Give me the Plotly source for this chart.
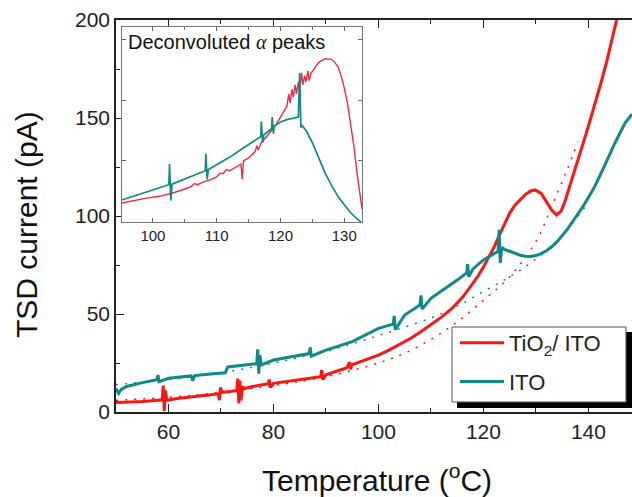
import plotly.graph_objects as go

# ---------------- main panel data ----------------
red_T = [50, 52, 55, 58, 58.8, 59, 59.2, 59.4, 59.7, 62, 65, 68, 69.5, 69.7, 69.9, 70.2, 72, 73, 73.2, 73.4, 73.6, 73.8, 74.1, 74.5,
         76, 78, 79, 79.2, 79.4, 80, 83, 86, 88, 89, 89.2, 89.4, 90, 92, 94, 94.5, 94.7, 94.9, 96, 98, 100, 102, 104, 106, 108,
         110, 112, 114, 115, 116, 117, 118, 119, 120, 121, 122, 123, 124, 125, 126, 127, 128, 129, 129.8, 131, 132, 133, 133.9,
         134.8, 135.6, 136.5, 137.5, 138.5, 139.5, 140.5, 141.5, 142.5, 143.5, 144.5, 145.5]
red_I = [4.9, 5.0, 5.4, 6.0, 6.2, 13.5, 0.5, 11.0, 6.0, 7.0, 7.8, 8.8, 9.4, 6.0, 12.5, 10.0, 10.6, 11.0, 17.0, 4.5, 16.0, 6.0, 13.0, 12.0,
         13.0, 13.8, 14.4, 16.5, 12.5, 14.6, 15.8, 17.0, 17.8, 18.0, 21.5, 16.5, 19.0, 20.6, 22.6, 25.5, 21.8, 24.0, 25.0, 27.0,
         29.0, 31.6, 34.4, 37.4, 40.8, 44.4, 48.4, 52.8, 55.6, 58.5, 62.0, 65.5, 69.5, 74.0, 79.0, 84.0, 90.0, 96.0, 101.5,
         105.5, 108.5, 111.0, 112.8, 113.3, 111.5, 107.5, 103.0, 100.5,
         102.5, 108.0, 115.5, 124.0, 132.5, 141.5, 150.5, 159.5, 169.0, 179.0, 190.0, 201.5]

ito_T = [50, 50.5, 51, 52, 55, 57.8, 58, 58.2, 60, 64.3, 64.6, 65, 68, 70, 70.8, 71.3, 74, 76.8, 77, 77.2, 77.4, 77.7, 80, 83, 86.8,
         87, 87.2, 90, 95, 100, 102.8, 103, 103.2, 105, 107.9, 108.1, 108.3, 110, 113, 115, 116.8, 117, 117.2, 118, 120, 122,
         122.8, 123, 123.2, 123.5, 124, 125, 126, 127, 128, 129, 130, 131, 132, 133, 134, 135, 136, 137, 138, 139, 140, 141,
         142, 143, 144, 145, 146, 147, 148.3]
ito_I = [12.0, 9.5, 11.5, 13.0, 15.0, 16.5, 18.8, 15.5, 17.2, 18.4, 16.0, 18.6, 19.4, 19.7, 20.0, 23.0, 23.8, 24.6, 32.0, 19.5, 29.0, 24.0,
         26.5, 27.8, 29.8, 33.0, 28.5, 31.6, 35.9, 42.7, 44.8, 49.0, 42.0, 49.5, 54.6, 59.5, 52.5, 58.0, 63.5, 67.3, 71.0, 75.5,
         69.0, 73.0, 77.6, 81.0, 82.0, 93.0, 76.0, 84.0, 83.0, 82.0, 81.0, 80.0, 79.5, 79.3, 79.8, 80.8, 82.3, 84.3, 86.8, 89.8,
         93.3, 97.2, 101.0, 105.0, 109.5, 114.0, 119.5, 125.0, 131.0, 137.0, 142.5, 147.5, 152.0]

# exponential-type fits (dotted)
red_fit_T = [50, 60, 70, 80, 90, 100, 105, 110, 115, 120, 125, 130, 133, 136, 138]
red_fit_I = [6.0, 7.5, 10.0, 13.5, 18.0, 25.0, 30.0, 37.0, 46.0, 57.0, 69.0, 87.0, 105.0, 124.0, 138.0]
ito_fit_T = [50, 60, 70, 80, 90, 100, 110, 115, 120, 125, 130, 135, 140]
ito_fit_I = [14.0, 16.5, 20.0, 25.0, 31.0, 39.0, 48.0, 54.0, 61.5, 69.0, 78.0, 90.0, 107.0]

# ---------------- inset data (deconvoluted alpha peaks, arb. units) ----------------
in_ito_T = [95.1, 97, 99, 101, 102.5, 102.6, 102.8, 103, 105, 107, 108.2, 108.3, 108.5, 108.7, 110, 112, 114, 116, 116.9, 117,
            117.2, 117.4, 118.6, 118.7, 118.9, 119, 120, 121, 122, 122.8, 123, 123.2, 123.4, 124, 125, 126, 127, 128, 129,
            130, 131, 132, 132.6]
in_ito_y = [0.36, 0.42, 0.49, 0.56, 0.61, 0.95, 0.35, 0.62, 0.70, 0.79, 0.84, 1.12, 0.70, 0.86, 0.94, 1.06, 1.20, 1.33, 1.40,
            1.65, 1.30, 1.43, 1.53, 1.72, 1.45, 1.57, 1.64, 1.68, 1.70, 1.72, 2.45, 1.55, 1.58, 1.50, 1.30, 1.05, 0.80, 0.60,
            0.42, 0.28, 0.15, 0.05, 0.0]
in_red_T = [95.1, 97, 99, 101, 103, 105, 106, 106.5, 107, 108, 109, 110, 110.5, 111, 111.5, 112, 113, 113.8, 114, 114.2, 115,
            116, 116.3, 116.5, 117, 118, 119, 120, 120.5, 121, 121.3, 121.5, 121.8, 122, 122.3, 122.5, 122.8, 123, 123.3,
            123.5, 123.8, 124, 124.3, 124.5, 124.8, 125, 125.5, 126, 127, 128, 128.5, 129, 129.5, 130, 130.5, 131,
            131.5, 132, 132.5, 132.8]
in_red_y = [0.31, 0.35, 0.39, 0.42, 0.47, 0.54, 0.58, 0.63, 0.61, 0.66, 0.69, 0.74, 0.80, 0.79, 0.86, 0.84, 0.90, 0.95, 0.70,
            1.00, 1.05, 1.15, 1.25, 1.18, 1.30, 1.42, 1.55, 1.72, 1.80, 1.90, 2.10, 1.95, 2.18, 2.05, 2.25, 2.10, 2.30, 2.15,
            2.45, 2.25, 2.40, 2.30, 2.48, 2.32, 2.45, 2.47, 2.55, 2.62, 2.68, 2.67, 2.62, 2.55, 2.40, 2.20, 1.95, 1.62,
            1.25, 0.80, 0.40, 0.20]

RED = "#FF1414"
TEAL = "#0E8A8A"
IN_RED = "#EE2A44"
FONT = "Arial, Liberation Sans, sans-serif"


def px_x(p):
    return (p - 116) / 516.0


def px_y(p):
    return (412 - p) / 392.0


fig = go.Figure()
fig.add_trace(go.Scatter(x=red_fit_T, y=red_fit_I, mode="lines", line=dict(color=RED, width=1.5, dash="2px,7px"),
                         line_shape="spline", showlegend=False, hoverinfo="skip"))
fig.add_trace(go.Scatter(x=ito_fit_T, y=ito_fit_I, mode="lines", line=dict(color=TEAL, width=1.5, dash="2px,7px"),
                         line_shape="spline", showlegend=False, hoverinfo="skip"))
fig.add_trace(go.Scatter(x=red_T, y=red_I, mode="lines", line=dict(color=RED, width=3),
                         name="TiO<sub>2</sub>/ ITO", legendgroup="a"))
fig.add_trace(go.Scatter(x=ito_T, y=ito_I, mode="lines", line=dict(color=TEAL, width=3), name="ITO",
                         legendgroup="b"))

fig.add_trace(go.Scatter(x=in_red_T, y=in_red_y, mode="lines", line=dict(color=IN_RED, width=1.4),
                         xaxis="x2", yaxis="y2", showlegend=False))
fig.add_trace(go.Scatter(x=in_ito_T, y=in_ito_y, mode="lines", line=dict(color=TEAL, width=1.7),
                         xaxis="x2", yaxis="y2", showlegend=False))

fig.update_layout(
    width=632, height=497,
    margin=dict(l=116, r=0, t=20, b=85),
    paper_bgcolor="white", plot_bgcolor="white",
    font=dict(family=FONT, color="#222"),
    xaxis=dict(range=[50, 148.3], tickvals=[60, 80, 100, 120, 140], ticks="inside", ticklen=8, tickwidth=1.2,
               tickcolor="#222", showline=True, linecolor="#222", linewidth=1.5, mirror="ticks",
               showgrid=False, zeroline=False, tickfont=dict(size=21),
               minor=dict(tickvals=[70, 90, 110, 130], ticks="inside", ticklen=4, tickcolor="#222", showgrid=False)),
    yaxis=dict(range=[0, 200], tickvals=[0, 50, 100, 150, 200], ticks="inside", ticklen=8, tickwidth=1.2,
               tickcolor="#222", showline=True, linecolor="#222", linewidth=1.5,
               showgrid=False, zeroline=False, tickfont=dict(size=21),
               minor=dict(tickvals=[25, 75, 125, 175], ticks="inside", ticklen=4, tickcolor="#222", showgrid=False)),
    xaxis2=dict(domain=[0.011, 0.477], anchor="y2", range=[95.1, 132.8], tickvals=[100, 110, 120, 130],
                ticks="inside", ticklen=4, tickcolor="#666", showline=True, linecolor="#777", linewidth=1.2,
                mirror="ticks", showgrid=False, zeroline=False, tickfont=dict(size=15),
                minor=dict(tickvals=[105, 115, 125], ticks="inside", ticklen=3, tickcolor="#666", showgrid=False)),
    yaxis2=dict(domain=[0.485, 0.982], anchor="x2", range=[0, 3.2], tickvals=[1, 2, 3], showticklabels=False,
                ticks="inside", ticklen=4, tickcolor="#666", showline=True, linecolor="#777", linewidth=1.2,
                mirror="ticks", showgrid=False, zeroline=False),
    legend=dict(x=px_x(455), y=px_y(322), xanchor="left", yanchor="top", bgcolor="rgba(0,0,0,0)",
                borderwidth=0, font=dict(size=22, color="#222"), tracegroupgap=7, itemwidth=44),
    shapes=[
        dict(type="rect", xref="paper", yref="paper", x0=px_x(457), x1=1.02, y0=px_y(408), y1=px_y(332),
             fillcolor="black", line=dict(width=0), layer="above"),
        dict(type="rect", xref="paper", yref="paper", x0=px_x(452), x1=px_x(626), y0=px_y(402), y1=px_y(327),
             fillcolor="white", line=dict(width=1, color="#555"), layer="above"),
    ],
    annotations=[
        dict(text="TSD current (pA)", xref="paper", yref="paper", x=px_x(26), y=px_y(225), textangle=-90,
             showarrow=False, font=dict(size=30, color="#111"), xanchor="center", yanchor="middle"),
        dict(text="Temperature (<sup>o</sup>C)", xref="paper", yref="paper", x=px_x(377), y=px_y(478),
             showarrow=False, font=dict(size=30, color="#111"), xanchor="center", yanchor="middle"),
        dict(text="Deconvoluted <span style=\"font-family:Liberation Serif\"><i>α</i></span> peaks",
             xref="paper", yref="paper", x=px_x(126), y=px_y(42),
             showarrow=False, font=dict(size=20, color="#111"), xanchor="left", yanchor="middle"),
    ],
)

fig.write_html("out.html")
